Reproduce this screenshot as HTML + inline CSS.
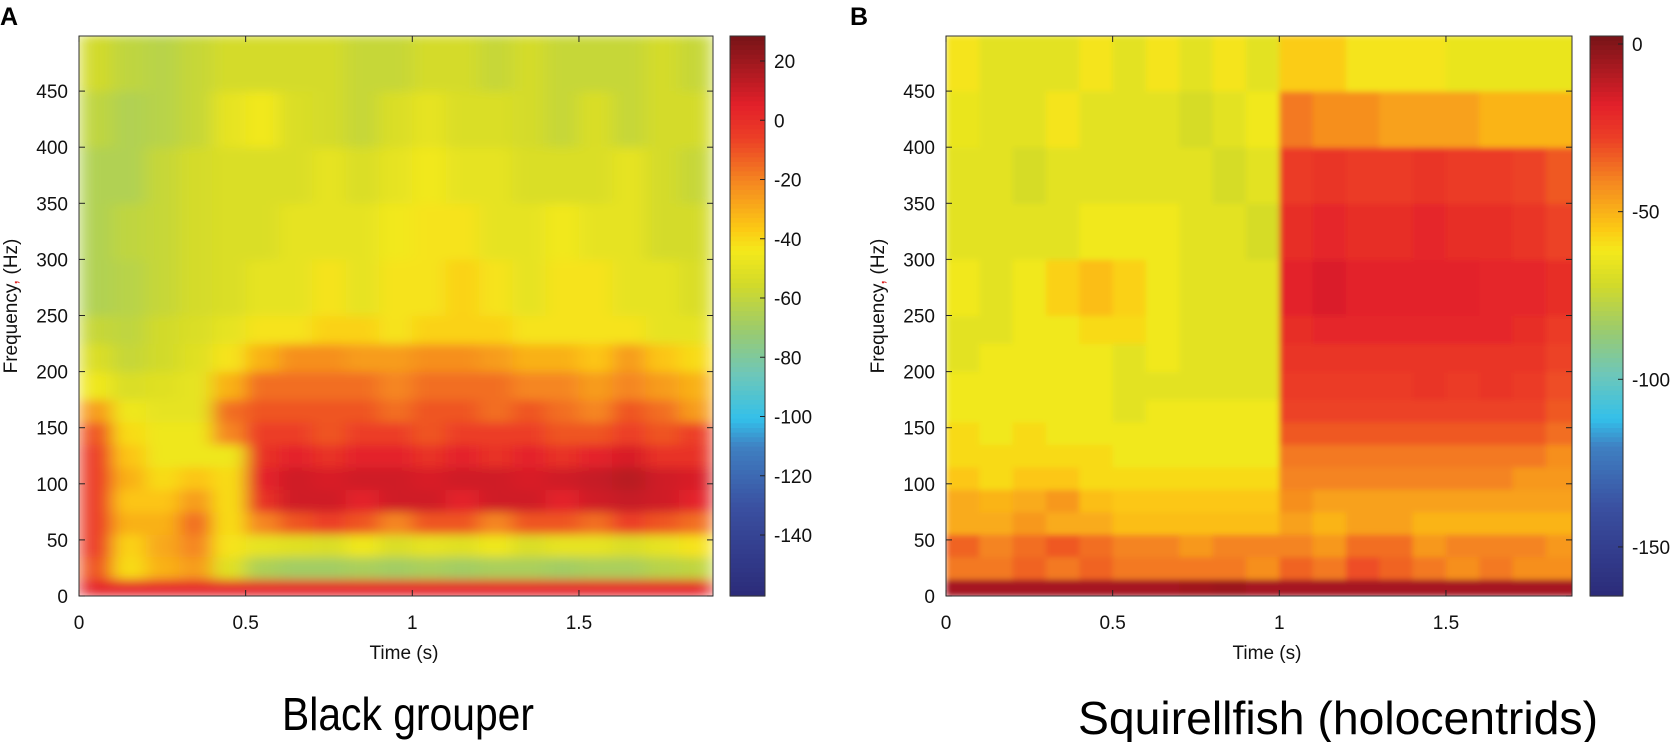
<!DOCTYPE html>
<html><head><meta charset="utf-8"><style>
body{margin:0;background:#fff;}
svg{display:block;font-family:"Liberation Sans",Arial,sans-serif;}
</style></head><body>
<svg id="fig" width="1673" height="742" viewBox="0 0 1673 742" xmlns="http://www.w3.org/2000/svg">
<defs>
<filter id="blurL" x="0" y="0" width="1" height="1"><feGaussianBlur stdDeviation="9 5" edgeMode="duplicate"/></filter>
<filter id="blurR" x="0" y="0" width="1" height="1"><feGaussianBlur stdDeviation="3 3" edgeMode="duplicate"/></filter>
<clipPath id="clipL"><rect x="79" y="36" width="634" height="560"/></clipPath>
<clipPath id="clipR"><rect x="946" y="36" width="626" height="560"/></clipPath>
</defs>
<text x="0" y="25" font-size="25" font-weight="bold">A</text>
<text x="850" y="25" font-size="25" font-weight="bold">B</text>
<g id="panelA"></g>
<g id="panelB"></g>
<text x="282" y="730" font-size="46" textLength="252" lengthAdjust="spacingAndGlyphs">Black grouper</text>
<text x="1078" y="734" font-size="46" textLength="520" lengthAdjust="spacingAndGlyphs">Squirellfish (holocentrids)</text>
</svg>
<script>
const freqEdges=[0,15,35,55,75,95,115,135,155,175,200,225,250,300,350,400,450,500];
const timeEdges=[0,0.1,0.2,0.3,0.4,0.5,0.6,0.7,0.8,0.9,1.0,1.1,1.2,1.3,1.4,1.5,1.6,1.7,1.8,1.9];
const yTicks=[0,50,100,150,200,250,300,350,400,450];
const xTicks=[0,0.5,1,1.5];
const xTickLabels=["0","0.5","1","1.5"];
const cbTicksA=[20,0,-20,-40,-60,-80,-100,-120,-140];
const cbTicksB=[0,-50,-100,-150];
const levelsA=[
[3,3,3,3,3,3,3,3,3,3,3,3,3,3,3,3,3,3,3],
[-10,-40,-30,-25,-50,-65,-68,-68,-66,-68,-66,-68,-66,-66,-68,-66,-66,-62,-60],
[-5,-38,-28,-20,-42,-48,-50,-52,-45,-52,-48,-50,-45,-52,-48,-48,-52,-48,-42],
[-5,-30,-30,-15,-40,-20,-10,-5,-10,-20,-10,-10,-20,-10,-10,-15,-5,-10,-15],
[-5,-35,-35,-25,-40,0,10,10,5,10,10,5,10,10,5,10,12,10,5],
[-5,-30,-40,-35,-40,5,10,8,10,10,8,10,10,8,10,12,15,10,8],
[-5,-35,-45,-45,-45,0,5,0,5,5,0,5,0,5,0,5,8,0,0],
[-10,-40,-45,-45,-20,-5,-5,-10,-5,-5,-10,-5,-5,-5,-10,-10,-5,-10,-5],
[-25,-45,-48,-48,-15,-10,-10,-10,-10,-15,-10,-10,-15,-10,-15,-20,-10,-15,-25],
[-45,-52,-50,-48,-30,-15,-15,-15,-15,-20,-15,-15,-15,-20,-20,-25,-20,-25,-30],
[-52,-58,-55,-50,-42,-30,-22,-22,-25,-25,-22,-22,-25,-30,-30,-35,-25,-35,-40],
[-58,-60,-55,-52,-48,-42,-42,-38,-38,-42,-38,-38,-38,-42,-42,-42,-42,-48,-48],
[-64,-62,-58,-54,-52,-48,-48,-42,-48,-42,-42,-38,-42,-48,-42,-42,-48,-48,-52],
[-64,-60,-58,-54,-52,-52,-48,-48,-48,-44,-42,-42,-48,-48,-44,-48,-48,-54,-54],
[-64,-64,-58,-54,-52,-52,-52,-48,-52,-48,-44,-48,-48,-52,-52,-52,-48,-54,-58],
[-60,-64,-62,-58,-48,-44,-52,-54,-58,-52,-48,-52,-52,-54,-58,-52,-58,-54,-54],
[-55,-60,-62,-58,-54,-54,-54,-54,-58,-58,-54,-54,-58,-54,-58,-58,-58,-54,-58]];
const levelsB=[
[-6,-6,-6,-6,-6,-6,-6,-5,-4,-6,-6,-6,-6,-6,-6,-6,-6,-6,-6],
[-38,-38,-34,-38,-34,-38,-38,-38,-38,-42,-34,-38,-30,-34,-38,-42,-38,-42,-42],
[-34,-40,-36,-32,-36,-40,-40,-44,-40,-40,-40,-44,-36,-36,-44,-40,-40,-40,-44],
[-48,-48,-44,-48,-48,-52,-52,-52,-52,-52,-46,-50,-46,-46,-50,-50,-50,-50,-50],
[-48,-50,-48,-44,-52,-54,-54,-54,-54,-54,-42,-46,-46,-46,-46,-46,-46,-46,-46],
[-54,-58,-54,-54,-58,-58,-58,-58,-58,-58,-40,-40,-40,-40,-40,-40,-40,-44,-44],
[-58,-58,-58,-58,-58,-62,-62,-62,-62,-62,-38,-38,-38,-38,-38,-38,-38,-38,-42],
[-58,-62,-58,-62,-62,-62,-62,-62,-62,-62,-32,-32,-32,-32,-32,-32,-32,-32,-36],
[-62,-62,-62,-62,-62,-66,-62,-62,-62,-62,-28,-28,-28,-28,-28,-28,-28,-28,-32],
[-62,-62,-62,-62,-62,-66,-66,-66,-66,-66,-26,-26,-26,-26,-24,-26,-24,-26,-30],
[-66,-62,-62,-62,-62,-66,-62,-66,-66,-66,-24,-24,-24,-24,-24,-24,-24,-24,-28],
[-66,-66,-62,-62,-58,-58,-62,-66,-66,-66,-22,-20,-20,-20,-20,-20,-20,-22,-26],
[-62,-66,-62,-56,-52,-56,-62,-66,-66,-66,-18,-16,-18,-18,-18,-18,-20,-20,-22],
[-66,-66,-66,-66,-62,-62,-62,-66,-66,-70,-22,-20,-22,-22,-20,-22,-22,-24,-28],
[-66,-66,-70,-66,-66,-66,-66,-66,-70,-66,-26,-24,-26,-26,-24,-26,-26,-28,-32],
[-64,-66,-66,-60,-66,-66,-66,-70,-66,-62,-38,-42,-42,-46,-46,-46,-50,-50,-50],
[-60,-66,-66,-66,-60,-66,-60,-66,-60,-66,-55,-55,-60,-60,-60,-64,-64,-64,-64]];

const NS="http://www.w3.org/2000/svg";
const stops=[[0,[43,42,120]],[0.16,[58,79,160]],[0.27,[63,128,194]],[0.32,[51,192,234]],[0.40,[110,199,185]],[0.48,[156,203,108]],[0.56,[210,218,42]],[0.62,[244,233,27]],[0.66,[252,201,20]],[0.74,[245,138,32]],[0.82,[236,64,38]],[0.88,[227,32,42]],[1,[122,20,24]]];
function cmap(t){t=Math.max(0,Math.min(1,t));for(let i=1;i<stops.length;i++){if(t<=stops[i][0]){const a=stops[i-1],b=stops[i];const f=(t-a[0])/(b[0]-a[0]);const c=a[1].map((v,k)=>Math.round(v+(b[1][k]-v)*f));return `rgb(${c[0]},${c[1]},${c[2]})`;}}return "rgb(122,20,24)";}
function mk(tag,attrs,parent){const e=document.createElementNS(NS,tag);for(const k in attrs)e.setAttribute(k,attrs[k]);parent.appendChild(e);return e;}

function panel(g,cfg,levels){
  const xS=t=>cfg.x0+t*cfg.pxPerS;
  const yS=f=>cfg.yB-f*cfg.pxPerHz;
  const cS=v=>cfg.cbY0+(cfg.cbV0-v)*cfg.cbPx;
  const clipG=mk('g',{'clip-path':`url(#${cfg.clip})`},g);
  const heat=mk('g',{filter:`url(#${cfg.blur})`},clipG);
  
  
  mk('rect',{x:cfg.x0,y:cfg.yT,width:cfg.x1-cfg.x0,height:cfg.yB-cfg.yT,fill:'#f4e91b'},heat);
  for(let r=0;r<levels.length;r++){for(let c=0;c<levels[r].length;c++){
    const x=xS(timeEdges[c]),x2=xS(timeEdges[c+1]);const y=yS(freqEdges[r+1]),y2=yS(freqEdges[r]);
    const cell=mk('rect',{x:x,y:y,width:x2-x+0.5,height:y2-y+0.5,fill:cmap((levels[r][c]-cfg.vMin)/(cfg.vMax-cfg.vMin))},heat);
    
    
  }}
  const box=mk('rect',{x:cfg.x0,y:cfg.yT,width:cfg.x1-cfg.x0,height:cfg.yB-cfg.yT,fill:'none',stroke:'#333','stroke-width':1},g);
  
  
  yTicks.forEach(v=>{const y=yS(v);
    mk('line',{x1:cfg.x0,x2:cfg.x0+6,y1:y,y2:y,stroke:'#222'},g);
    mk('line',{x1:cfg.x1,x2:cfg.x1-6,y1:y,y2:y,stroke:'#222'},g);
    const t=mk('text',{x:cfg.x0-11,y:y+7,'font-size':19,'text-anchor':'end',fill:'#111'},g);t.textContent=v;
    
    
  });
  xTicks.forEach((v,i)=>{const x=xS(v);
    mk('line',{x1:x,x2:x,y1:cfg.yB,y2:cfg.yB-6,stroke:'#222'},g);
    mk('line',{x1:x,x2:x,y1:cfg.yT,y2:cfg.yT+6,stroke:'#222'},g);
    const t=mk('text',{x:x,y:cfg.yB+33,'font-size':19,'text-anchor':'middle',fill:'#111'},g);t.textContent=xTickLabels[i];
    
    
  });
  const xl=mk('text',{x:(cfg.x0+cfg.x1)/2+8,y:cfg.yB+63,'font-size':19,'text-anchor':'middle',fill:'#111'},g);xl.textContent='Time (s)';
  
  
  const yl=mk('text',{x:0,y:0,'font-size':19,'text-anchor':'middle',fill:'#111',transform:`translate(${cfg.x0-62},${(cfg.yT+cfg.yB)/2-10}) rotate(-90)`},g);
  yl.innerHTML='Frequency<tspan fill="#d22">,</tspan> (Hz)';
  
  
  const cb=mk('g',{},g);
  
  
  const N=120;
  for(let i=0;i<N;i++){const y=cfg.yT+(cfg.yB-cfg.yT)*i/N;const v=cfg.cbV0-(y-cfg.cbY0)/cfg.cbPx;
    mk('rect',{x:cfg.cbX0,y:y,width:cfg.cbX1-cfg.cbX0,height:(cfg.yB-cfg.yT)/N+0.6,fill:cmap((v-cfg.vMin)/(cfg.vMax-cfg.vMin))},cb);}
  mk('rect',{x:cfg.cbX0,y:cfg.yT,width:cfg.cbX1-cfg.cbX0,height:cfg.yB-cfg.yT,fill:'none',stroke:'#333'},cb);
  cfg.cbTicks.forEach(v=>{const y=cS(v);
    mk('line',{x1:cfg.cbX1,x2:cfg.cbX1-5,y1:y,y2:y,stroke:'#222'},cb);
    const t=mk('text',{x:cfg.cbX1+9,y:y+7,'font-size':19,fill:'#111'},cb);t.textContent=v;
    
    
  });
}
panel(document.getElementById('panelA'),{x0:79,x1:713,yT:36,yB:596,pxPerS:333.3,pxPerHz:1.122,clip:'clipL',blur:'blurL',vMin:-160.6,vMax:28.4,cbX0:730,cbX1:765,cbY0:61,cbV0:20,cbPx:2.9625,cbTicks:cbTicksA},levelsA);
panel(document.getElementById('panelB'),{x0:946,x1:1572,yT:36,yB:596,pxPerS:333.3,pxPerHz:1.122,clip:'clipR',blur:'blurR',vMin:-164.6,vMax:2.4,cbX0:1590,cbX1:1623,cbY0:44,cbV0:0,cbPx:3.353,cbTicks:cbTicksB},levelsB);
</script>
</body></html>
